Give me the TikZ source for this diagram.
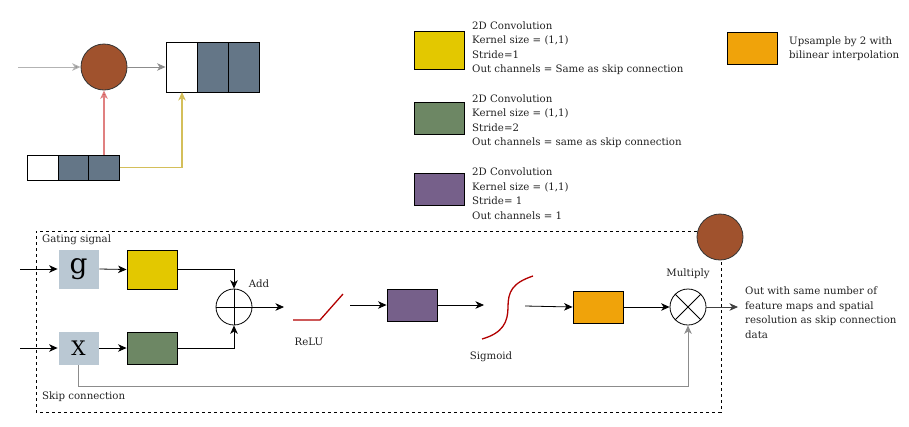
\documentclass[tikz,border=0pt]{standalone}
\usepackage{fontspec}
\setmainfont{DejaVu Serif}
\usetikzlibrary{arrows.meta}
\definecolor{brownc}{HTML}{A0522D}
\definecolor{fmgray}{HTML}{647687}
\definecolor{yelc}{HTML}{E3C800}
\definecolor{grnc}{HTML}{6D8764}
\definecolor{purc}{HTML}{76608A}
\definecolor{orac}{HTML}{F0A30A}
\definecolor{gxc}{HTML}{BAC8D3}
\definecolor{redc}{HTML}{B20000}
\definecolor{lred}{HTML}{E08080}
\definecolor{lyel}{HTML}{D4BF5A}
\definecolor{dyel}{HTML}{C8A800}
\definecolor{lgray}{HTML}{B3B3B3}
\definecolor{mgray}{HTML}{8C8C8C}
\definecolor{txtc}{HTML}{222222}
\begin{document}
\begin{tikzpicture}[x=1pt,y=-1pt,
  every node/.style={font=\fontsize{10.2}{14.5}\selectfont, text=txtc},
  tip/.style={-{Stealth[length=8.5pt,width=7.5pt,inset=2.5pt]}},
  arr/.style={tip, line width=0.8pt, draw=black},
  cbox/.style={draw=black, line width=0.9pt, minimum width=50pt, minimum height=32pt, inner sep=0pt},
  cell/.style={draw=black, line width=0.9pt, minimum width=31pt, inner sep=0pt},
  gx/.style={fill=gxc, draw=white, line width=0.8pt, minimum width=41pt, inner sep=0pt, text=black},
  dot/.style={circle, draw=black!80, fill=brownc, minimum size=46pt, inner sep=0pt, line width=0.8pt},
  op/.style={circle, draw=black, minimum size=36pt, inner sep=0pt, line width=0.8pt},
  desc/.style={anchor=west, align=left, inner sep=0pt},
  lab/.style={inner sep=0pt}
]
\useasboundingbox (0,0) rectangle (909,426);

% ---------- top-left sketch ----------
\coordinate (inA) at (18,67);
\node[dot] (c1) at (104,67) {};
\node[cell, minimum height=50pt, fill=white] (t1) at (181.5,67) {};
\node[cell, minimum height=50pt, fill=fmgray] (t2) at (212.5,67) {};
\node[cell, minimum height=50pt, fill=fmgray] (t3) at (243.5,67) {};
\node[cell, minimum height=25pt, fill=white] (b1) at (42.5,167.5) {};
\node[cell, minimum height=25pt, fill=fmgray] (b2) at (73.5,167.5) {};
\node[cell, minimum height=25pt, fill=fmgray] (b3) at (104,167.5) {};
\draw[-{Stealth[length=8.5pt,width=7.5pt,inset=2.5pt,fill=mgray]}, draw=lgray, line width=1pt] (inA) -- (c1.west);
\draw[-{Stealth[length=8.5pt,width=7.5pt,inset=2.5pt,fill=mgray]}, draw=mgray, line width=0.8pt] (c1.east) -- (t1.west);
\draw[-{Stealth[length=8.5pt,width=7.5pt,inset=2.5pt,fill=redc]}, draw=lred, line width=1.3pt] (b3.north -| c1) -- (c1.south);
\draw[-{Stealth[length=8.5pt,width=7.5pt,inset=2.5pt,fill=dyel]}, draw=lyel, line width=1.3pt] (b3.east) -| (182,92);

% ---------- legend ----------
\node[cbox, fill=yelc, minimum height=38pt] (ly) at (439,50) {};
\node[desc] (lyt) at (472,48) {2D Convolution\\Kernel size = (1,1)\\Stride=1\\Out channels = Same as skip connection};
\node[cbox, fill=grnc] (lg) at (439,118) {};
\node[desc] (lgt) at (472,121) {2D Convolution\\Kernel size = (1,1)\\Stride=2\\Out channels = same as skip connection};
\node[cbox, fill=purc] (lp) at (439,189) {};
\node[desc] (lpt) at (472,193.5) {2D Convolution\\Kernel size = (1,1)\\Stride= 1\\Out channels = 1};
\node[cbox, fill=orac] (lo) at (752.5,48) {};
\node[desc] (lot) at (789,48.5) {Upsample by 2 with\\bilinear interpolation};

% ---------- attention gate ----------
\node[dot] (c2) at (720,237) {};
\draw[dashed, line width=0.7pt] (c2.west |- 0,231) -- (36,231) -- (36,412) -- (721,412) -- (721,260);

\node[lab, anchor=west] (gs) at (42,240) {Gating signal};
\node[lab, anchor=west] (sc) at (42,397) {Skip connection};

\node[gx, minimum height=40pt, font=\fontsize{28}{28}\selectfont] (g) at (78.5,269) {g};
\node[gx, minimum height=34pt, font=\fontsize{20}{20}\selectfont] (x) at (78.5,348) {X};
\coordinate (gin) at (20,269);
\coordinate (xin) at (20,348);
\draw[arr] (gin) -- (g.west);
\draw[arr] (xin) -- (x.west);

\node[cbox, fill=yelc, minimum height=39pt] (wy) at (152,269.5) {};
\node[cbox, fill=grnc] (wg) at (152,348) {};
\draw[arr] (g.east) -- (wy.west);
\draw[arr] (x.east) -- (wg.west);

\node[op] (add) at (234,307) {};
\draw[line width=0.8pt] (add.north) -- (add.south) (add.west) -- (add.east);
\node[lab] (addl) at (259,284) {Add};
\draw[arr] (wy.east) -| (add.north);
\draw[arr] (wg.east) -| (add.south);
\coordinate (aout) at (284,307);
\draw[arr] (add.east) -- (aout);

% ReLU
\coordinate (r0) at (293,320);
\coordinate (r1) at (320,320);
\coordinate (r2) at (343,294);
\draw[redc, line width=1.3pt] (r0) -- (r1) -- (r2);
\node[lab] (relu) at (309,342) {ReLU};

\coordinate (rout) at (350,305);
\node[cbox, fill=purc] (wp) at (412,305) {};
\draw[arr] (rout) -- (wp.west);
\coordinate (sin) at (484,305);
\draw[arr] (wp.east) -- (sin);

% Sigmoid
\coordinate (s0) at (482,339);
\coordinate (s1) at (508,307);
\coordinate (s2) at (533,276);
\draw[redc, line width=1.3pt] (s0) .. controls (503,333) and (508,322) .. (s1) .. controls (508,292) and (512,283) .. (s2);
\node[lab] (sig) at (491,357) {Sigmoid};

\coordinate (sout) at (525,306);
\node[cbox, fill=orac] (wo) at (598,307) {};
\draw[arr] (sout) -- (wo.west);

\node[op] (mul) at (688,307) {};
\draw[line width=0.8pt] (mul.north west) -- (mul.south east) (mul.north east) -- (mul.south west);
\node[lab] (mull) at (688,274) {Multiply};
\draw[arr] (wo.east) -- (mul.west);
\coordinate (mout) at (738,307);
\draw[arr, draw=black!75] (mul.east) -- (mout);
\node[desc] (outt) at (745,312.5) {Out with same number of\\feature maps and spatial\\resolution as skip connection\\data};

\draw[-{Stealth[length=8.5pt,width=7.5pt,inset=2.5pt,fill=mgray]}, draw=mgray, line width=0.8pt] (x.south) -- (78.5,386) -| (mul.south);
\end{tikzpicture}
\end{document}
